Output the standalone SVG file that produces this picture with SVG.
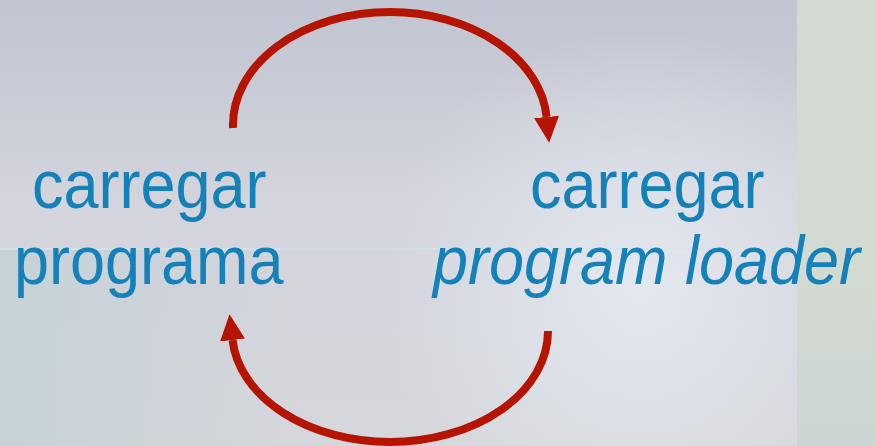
<svg xmlns="http://www.w3.org/2000/svg" width="876" height="446" viewBox="0 0 876 446">
  <defs>
    <linearGradient id="bg" x1="0" y1="0" x2="0" y2="1">
      <stop offset="0" stop-color="#c1c5d1"/>
      <stop offset="0.45" stop-color="#d3d4dc"/>
      <stop offset="1" stop-color="#d6d7dc"/>
    </linearGradient>
    <radialGradient id="glow" cx="640" cy="290" r="260" gradientUnits="userSpaceOnUse">
      <stop offset="0" stop-color="#e6ebf2" stop-opacity="0.85"/>
      <stop offset="1" stop-color="#e6ebf2" stop-opacity="0"/>
    </radialGradient>
    <linearGradient id="leftTint" x1="0" y1="0" x2="1" y2="0">
      <stop offset="0" stop-color="#bfd0d4" stop-opacity="0.7"/>
      <stop offset="1" stop-color="#bfd0d4" stop-opacity="0"/>
    </linearGradient>
    <linearGradient id="strip" x1="0" y1="0" x2="0" y2="1">
      <stop offset="0" stop-color="#d5dad3"/>
      <stop offset="0.6" stop-color="#d3dad1"/>
      <stop offset="1" stop-color="#cbd5d3"/>
    </linearGradient>
    <marker id="head" markerUnits="userSpaceOnUse" markerWidth="26" markerHeight="26" refX="0" refY="12" orient="auto" viewBox="0 0 25 24">
      <path d="M0,0 L25,12 L0,24 z" fill="#b51400"/>
    </marker>
    <style>
      .lbl { font-family: "Liberation Sans", Arial, sans-serif; font-size: 63px; fill: #1581b9; }
      .it { font-style: italic; }
      .arc { fill: none; stroke: #b51400; stroke-width: 8; marker-end: url(#head); }
    </style>
  </defs>

  <g id="background">
    <rect x="0" y="0" width="876" height="446" fill="url(#bg)"/>
    <rect x="0" y="250" width="300" height="196" fill="url(#leftTint)"/>
    <rect x="0" y="0" width="876" height="446" fill="url(#glow)"/>
    <rect x="797" y="0" width="79" height="446" fill="url(#strip)"/>
    <rect x="0" y="248" width="797" height="2" fill="#cfe6ec" opacity="0.7"/>
  </g>

  <g id="connectors">
    <path class="arc" d="M233,128 A157,113 0 0 1 390,12 A157,113 0 0 1 546.6,117"/>
    <path class="arc" d="M548,331 A158,111 0 0 1 390,442 A158,111 0 0 1 232.5,340"/>
  </g>

  <g id="node-carregar-programa" transform="scale(1,1.08)">
    <text class="lbl" x="32" y="192.6">carregar</text>
    <text class="lbl" x="14" y="263">programa</text>
  </g>

  <g id="node-carregar-program-loader" transform="scale(1,1.08)">
    <text class="lbl" x="530" y="192.6">carregar</text>
    <text class="lbl it" x="433" y="263">program loader</text>
  </g>
</svg>
